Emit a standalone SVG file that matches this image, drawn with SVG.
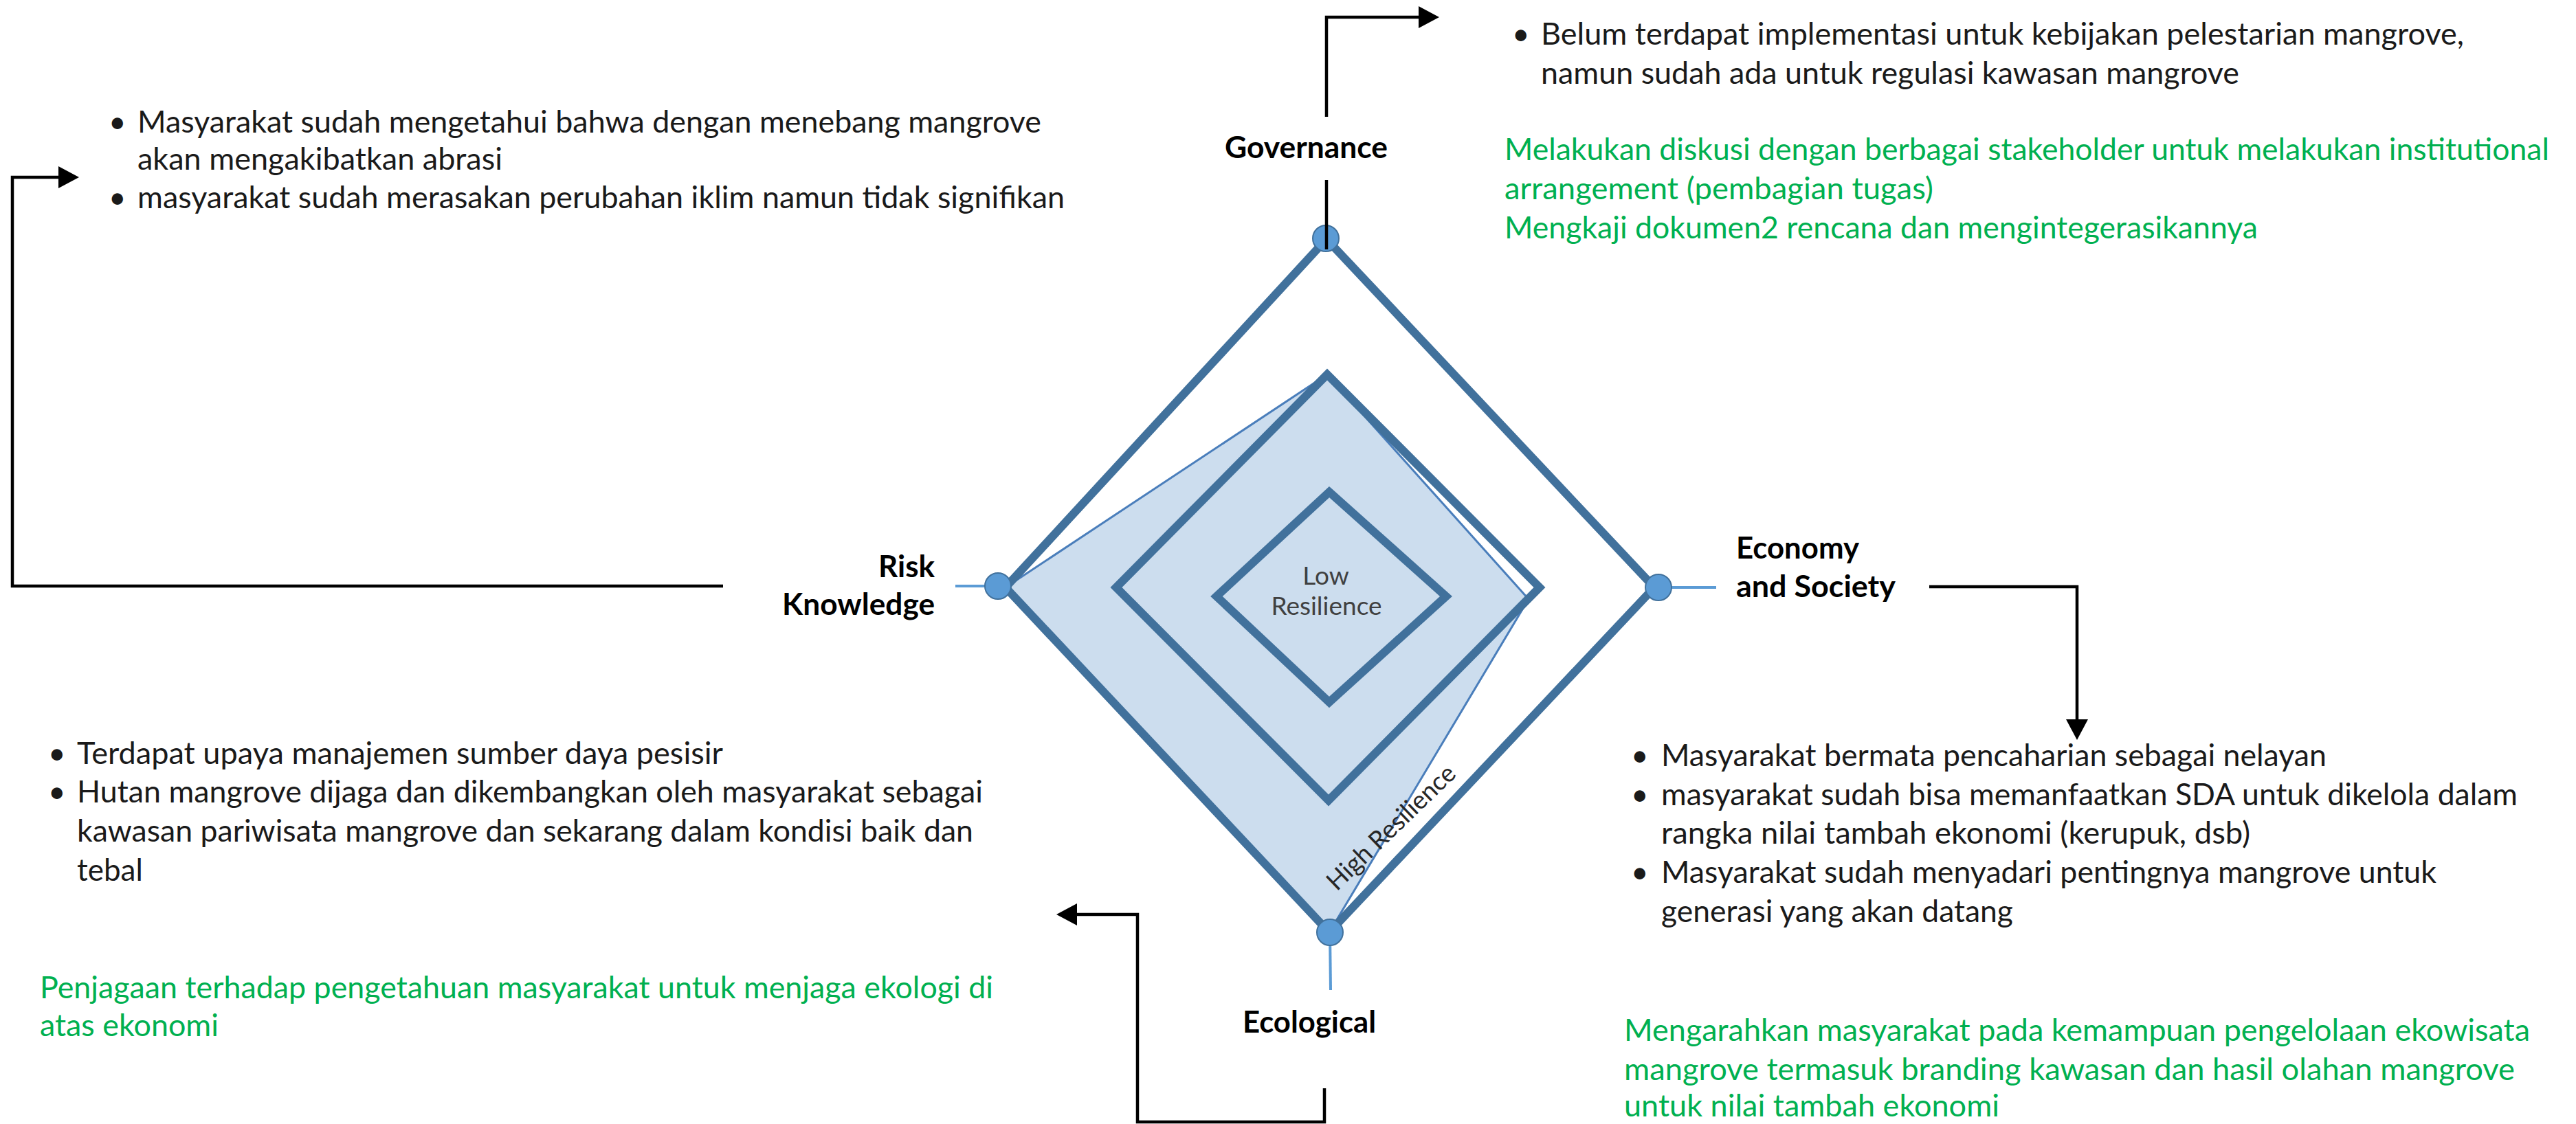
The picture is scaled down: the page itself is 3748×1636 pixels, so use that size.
<svg xmlns="http://www.w3.org/2000/svg" width="3748" height="1636" viewBox="0 0 3748 1636">
<style>
  .t { font-family: Lato, "Open Sans", "Liberation Sans", sans-serif; font-size: 44px; fill: #1a1a1a; }
  .g { font-family: Lato, "Open Sans", "Liberation Sans", sans-serif; font-size: 44px; fill: #00B050; }
  .lbl { font-family: Lato, "Open Sans", "Liberation Sans", sans-serif; font-size: 44px; font-weight: 700; fill: #000; }
  .res { font-family: Lato, "Open Sans", "Liberation Sans", sans-serif; font-size: 37px; fill: #404040; }
  .dia { fill: none; stroke: #41719C; stroke-width: 12; stroke-linejoin: miter; }
  .dot { fill: #5B9BD5; stroke: #41719C; stroke-width: 2; }
  .axis { stroke: #5B9BD5; stroke-width: 4; fill: none; }
  .conn { fill: none; stroke: #000; stroke-width: 4.5; }
</style>
<defs>
  <marker id="arr" viewBox="0 0 30 32" refX="2" refY="16" markerWidth="30" markerHeight="32" markerUnits="userSpaceOnUse" orient="auto">
    <path d="M0,0 L30,16 L0,32 z" fill="#000"/>
  </marker>
</defs>
<rect x="0" y="0" width="3748" height="1636" fill="#fff"/>

<g id="radar">
  <polygon points="1931,545 1463,855 1934,1357 2224,872" fill="#CCDDEE" stroke="#4A7EBB" stroke-width="3" stroke-linejoin="round"/>
  <polygon class="dia" points="1930,348 2407,855 1934,1357 1463,855"/>
  <polygon class="dia" points="1931,545 2240,855 1933,1165 1624,855"/>
  <polygon class="dia" points="1934,716 2104,868 1934,1022 1770,868"/>
  <line class="axis" x1="1390" y1="853" x2="1452" y2="853"/>
  <line class="axis" x1="2413" y1="855" x2="2497" y2="855"/>
  <line class="axis" x1="1935" y1="1357" x2="1936" y2="1441"/>
  <circle class="dot" cx="1929" cy="347" r="19"/>
  <circle class="dot" cx="1452" cy="853" r="19"/>
  <circle class="dot" cx="2413" cy="855" r="19"/>
  <circle class="dot" cx="1935" cy="1357" r="19"/>
  <text class="res" x="1929" y="851" text-anchor="middle">Low</text>
  <text class="res" x="1930" y="895" text-anchor="middle">Resilience</text>
  <text class="res" x="1945" y="1298" style="fill:#262626" transform="rotate(-44 1945 1298)" textLength="244" lengthAdjust="spacingAndGlyphs">High Resilience</text>
</g>

<g id="connectors">
  <path class="conn" d="M1930,363 V262"/>
  <path class="conn" d="M1930,170 V25 H2066" marker-end="url(#arr)"/>
  <path class="conn" d="M1052,853 H18 V258 H87" marker-end="url(#arr)"/>
  <path class="conn" d="M2807,854 H3022 V1049" marker-end="url(#arr)"/>
  <path class="conn" d="M1927,1584 V1633 H1655 V1331 H1565" marker-end="url(#arr)"/>
</g>

<g id="node-governance">
  <text class="lbl" x="1782" y="230" textLength="237" lengthAdjust="spacingAndGlyphs">Governance</text>
  <text class="t" x="2200" y="65">•</text>
  <text class="t" x="2242" y="65" textLength="1343" lengthAdjust="spacingAndGlyphs">Belum terdapat implementasi  untuk kebijakan pelestarian mangrove,</text>
  <text class="t" x="2242" y="122" textLength="1016" lengthAdjust="spacingAndGlyphs">namun sudah ada untuk regulasi kawasan mangrove</text>
  <text class="g" x="2189" y="233" textLength="1520" lengthAdjust="spacingAndGlyphs">Melakukan diskusi dengan berbagai stakeholder untuk melakukan institutional</text>
  <text class="g" x="2189" y="290" textLength="624" lengthAdjust="spacingAndGlyphs">arrangement (pembagian tugas)</text>
  <text class="g" x="2189" y="347" textLength="1096" lengthAdjust="spacingAndGlyphs">Mengkaji dokumen2 rencana dan mengintegerasikannya</text>
</g>

<g id="node-risk">
  <text class="lbl" x="1360" y="840" text-anchor="end">Risk</text>
  <text class="lbl" x="1360" y="895" text-anchor="end" textLength="222" lengthAdjust="spacingAndGlyphs">Knowledge</text>
  <text class="t" x="158" y="193">•</text>
  <text class="t" x="200" y="193" textLength="1315" lengthAdjust="spacingAndGlyphs">Masyarakat sudah mengetahui bahwa dengan menebang mangrove</text>
  <text class="t" x="200" y="247" textLength="531" lengthAdjust="spacingAndGlyphs">akan mengakibatkan abrasi</text>
  <text class="t" x="158" y="303">•</text>
  <text class="t" x="200" y="303" textLength="1349" lengthAdjust="spacingAndGlyphs">masyarakat sudah merasakan perubahan iklim namun tidak signifikan</text>
</g>

<g id="node-economy">
  <text class="lbl" x="2526" y="813" textLength="179" lengthAdjust="spacingAndGlyphs">Economy</text>
  <text class="lbl" x="2526" y="869" textLength="232" lengthAdjust="spacingAndGlyphs">and Society</text>
  <text class="t" x="2373" y="1115">•</text>
  <text class="t" x="2417" y="1115" textLength="968" lengthAdjust="spacingAndGlyphs">Masyarakat bermata pencaharian sebagai nelayan</text>
  <text class="t" x="2373" y="1172">•</text>
  <text class="t" x="2417" y="1172" textLength="1246" lengthAdjust="spacingAndGlyphs">masyarakat sudah bisa memanfaatkan SDA untuk dikelola  dalam</text>
  <text class="t" x="2417" y="1228" textLength="857" lengthAdjust="spacingAndGlyphs">rangka nilai tambah ekonomi (kerupuk, dsb)</text>
  <text class="t" x="2373" y="1285">•</text>
  <text class="t" x="2417" y="1285" textLength="1128" lengthAdjust="spacingAndGlyphs">Masyarakat sudah menyadari pentingnya mangrove untuk</text>
  <text class="t" x="2417" y="1342" textLength="512" lengthAdjust="spacingAndGlyphs">generasi yang akan datang</text>
  <text class="g" x="2363" y="1515" textLength="1318" lengthAdjust="spacingAndGlyphs">Mengarahkan masyarakat pada kemampuan pengelolaan  ekowisata</text>
  <text class="g" x="2363" y="1572" textLength="1296" lengthAdjust="spacingAndGlyphs">mangrove  termasuk branding kawasan dan hasil olahan mangrove</text>
  <text class="g" x="2363" y="1625" textLength="546" lengthAdjust="spacingAndGlyphs">untuk nilai tambah ekonomi</text>
</g>

<g id="node-ecological">
  <text class="lbl" x="1808" y="1503" textLength="194" lengthAdjust="spacingAndGlyphs">Ecological</text>
  <text class="t" x="70" y="1112">•</text>
  <text class="t" x="112" y="1112" textLength="940" lengthAdjust="spacingAndGlyphs">Terdapat upaya manajemen sumber daya pesisir</text>
  <text class="t" x="70" y="1168">•</text>
  <text class="t" x="112" y="1168" textLength="1318" lengthAdjust="spacingAndGlyphs">Hutan mangrove dijaga dan dikembangkan oleh masyarakat sebagai</text>
  <text class="t" x="112" y="1225" textLength="1304" lengthAdjust="spacingAndGlyphs">kawasan pariwisata mangrove dan sekarang dalam kondisi baik dan</text>
  <text class="t" x="112" y="1282">tebal</text>
  <text class="g" x="58" y="1453" textLength="1387" lengthAdjust="spacingAndGlyphs">Penjagaan terhadap pengetahuan masyarakat untuk menjaga ekologi di</text>
  <text class="g" x="58" y="1508" textLength="260" lengthAdjust="spacingAndGlyphs">atas ekonomi</text>
</g>
</svg>
